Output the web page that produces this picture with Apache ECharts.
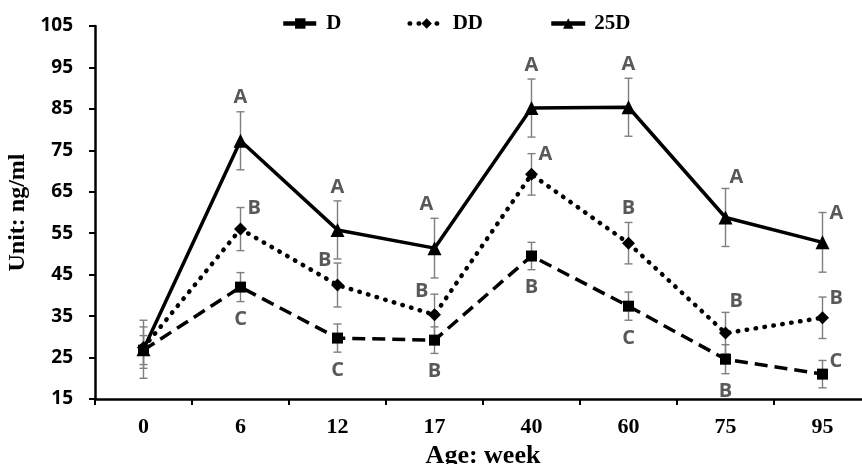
<!DOCTYPE html>
<html>
<head>
<meta charset="utf-8">
<script src="https://cdn.jsdelivr.net/npm/echarts@6/dist/echarts.min.js"></script>
<style>
  html, body { margin: 0; padding: 0; background: #fff; }
  #chart { width: 862px; height: 464px; }
</style>
</head>
<body>
<div id="chart"></div>
<script>
// age in weeks
const weeks = ['0', '6', '12', '17', '40', '60', '75', '95'];

// means and error bar half-widths (ng/ml)
const dMean = [26.8, 42.0, 29.7, 29.2, 49.5, 37.4, 24.6, 21.0];
const dErr = [3.5, 3.5, 3.4, 3.2, 3.3, 3.4, 3.5, 3.3];
const ddMean = [27.4, 56.0, 42.5, 35.3, 69.2, 52.6, 30.9, 34.6];
const ddErr = [5.0, 5.2, 5.3, 5.0, 5.0, 5.0, 5.0, 5.0];
const d25Mean = [27.0, 77.3, 55.8, 51.4, 85.2, 85.4, 58.8, 52.8];
const d25Err = [7.0, 7.0, 7.0, 7.2, 7.0, 7.0, 7.0, 7.2];

// significance letters
const dLetters = ['', 'C', 'C', 'B', 'B', 'C', 'B', 'C'];
const ddLetters = ['', 'B', 'B', 'B', 'A', 'B', 'B', 'B'];
const d25Letters = ['', 'A', 'A', 'A', 'A', 'A', 'A', 'A'];

// where each letter sits next to its error bar
const dLetterPos = ['', 'bottom', 'bottom', 'bottom', 'bottom', 'bottom', 'bottom', 'right'];
const ddLetterPos = ['', 'right', 'left', 'left', 'right', 'top', 'tr', 'right'];
const d25LetterPos = ['', 'top', 'top', 'topleft', 'top', 'top', 'tr', 'right'];

const serif = '"Liberation Serif", "Times New Roman", serif';
const sans = '"Open Sans", "Noto Sans", sans-serif';

function letterText(pos, x, hi, lo, text) {
  let tx = x, ty = hi - 14, align = 'center';
  if (pos === 'topleft') { tx = x - 8; ty = hi - 14; }
  else if (pos === 'right') { tx = x + 7; ty = hi + 1; align = 'left'; }
  else if (pos === 'tr') { tx = x + 4; ty = hi - 11; align = 'left'; }
  else if (pos === 'left') { tx = x - 6; ty = hi - 3; align = 'right'; }
  else if (pos === 'bottom') { ty = lo + 18; }
  return {
    type: 'text',
    style: {
      x: tx, y: ty, text: text, align: align, verticalAlign: 'middle',
      fill: '#595959', font: 'bold 20px ' + sans
    }
  };
}

function errorSeries(name, mean, err, letters, pos) {
  return {
    type: 'custom',
    name: name,
    silent: true,
    z: 1,
    data: mean.map((m, i) => [i, m - err[i], m + err[i]]),
    renderItem(params, api) {
      const i = api.value(0);
      const lo = api.coord([i, api.value(1)]);
      const hi = api.coord([i, api.value(2)]);
      const x = hi[0];
      const cap = 4;
      const st = { stroke: '#7f7f7f', lineWidth: 1.4 };
      const kids = [
        { type: 'line', shape: { x1: x, y1: hi[1], x2: x, y2: lo[1] }, style: st },
        { type: 'line', shape: { x1: x - cap, y1: hi[1], x2: x + cap, y2: hi[1] }, style: st },
        { type: 'line', shape: { x1: x - cap, y1: lo[1], x2: x + cap, y2: lo[1] }, style: st }
      ];
      const letter = letters[params.dataIndex];
      if (letter) kids.push(letterText(pos[params.dataIndex], x, hi[1], lo[1], letter));
      return { type: 'group', children: kids };
    }
  };
}

const chart = echarts.init(document.getElementById('chart'));

chart.setOption({
  animation: false,
  backgroundColor: '#fff',
  grid: { left: 95, right: -9, top: 26, bottom: 65, outerBoundsMode: 'none', containLabel: false },
  legend: {
    data: ['D', 'DD', '25D'],
    left: 276,
    top: 8,
    itemWidth: 34,
    itemHeight: 13,
    itemGap: 66,
    lineStyle: { width: 4.5 },
    textStyle: { fontFamily: serif, fontWeight: 'bold', fontSize: 21, color: '#000', padding: [0, 0, 0, 4] }
  },
  xAxis: {
    type: 'category',
    data: weeks,
    name: 'Age: week',
    nameLocation: 'middle',
    nameGap: 37,
    nameTextStyle: { fontFamily: serif, fontWeight: 'bold', fontSize: 26, color: '#000' },
    axisLine: { lineStyle: { color: '#000', width: 2.5 } },
    axisTick: { show: true, length: 6, lineStyle: { color: '#000', width: 2 } },
    axisLabel: { margin: 17, fontFamily: serif, fontWeight: 'bold', fontSize: 22, color: '#000' },
    splitLine: { show: false }
  },
  yAxis: {
    type: 'value',
    min: 15,
    max: 105,
    interval: 10,
    name: 'Unit: ng/ml',
    nameLocation: 'middle',
    nameGap: 61,
    nameTextStyle: { fontFamily: serif, fontWeight: 'bold', fontSize: 24, color: '#000' },
    axisLine: { show: true, lineStyle: { color: '#000', width: 2.5 } },
    axisTick: { show: true, length: 6, lineStyle: { color: '#000', width: 2 } },
    axisLabel: { margin: 22, fontFamily: sans, fontWeight: 'bold', fontSize: 19, color: '#000' },
    splitLine: { show: false }
  },
  series: [
    errorSeries('D err', dMean, dErr, dLetters, dLetterPos),
    errorSeries('DD err', ddMean, ddErr, ddLetters, ddLetterPos),
    errorSeries('25D err', d25Mean, d25Err, d25Letters, d25LetterPos),
    {
      type: 'line', name: 'D', data: dMean, z: 3,
      symbol: 'rect', symbolSize: 11,
      itemStyle: { color: '#000' },
      lineStyle: { color: '#000', width: 3.5, type: [13, 7] }
    },
    {
      type: 'line', name: 'DD', data: ddMean, z: 3,
      symbol: 'diamond', symbolSize: 13,
      itemStyle: { color: '#000' },
      lineStyle: { color: '#000', width: 4.5, type: [0.5, 8.5], cap: 'round' }
    },
    {
      type: 'line', name: '25D', data: d25Mean, z: 3,
      symbol: 'triangle', symbolSize: 14,
      itemStyle: { color: '#000' },
      lineStyle: { color: '#000', width: 3.5 }
    }
  ]
});
</script>
</body>
</html>
